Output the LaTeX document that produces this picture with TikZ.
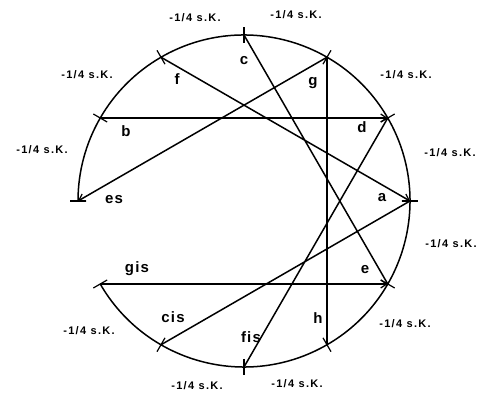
\documentclass[tikz,border=0pt]{standalone}
\usepackage{fontspec}
\setmainfont{Liberation Sans}
\newfontfamily\qfont{Liberation Sans Bold}[LetterSpace=12]
\newfontfamily\nfont{Liberation Sans Bold}[LetterSpace=8]
\usetikzlibrary{arrows.meta,calc}
\begin{document}
\begin{tikzpicture}[x=1pt,y=1pt,
  ring/.style={line width=1.5pt},
  chord/.style={line width=1.5pt},
  arr/.style={chord,-{Straight Barb[length=6pt,width=8pt,line width=1.2pt]}},
  tick/.style={line width=1.2pt},
  note/.style={anchor=base,inner sep=0pt,font=\nfont\fontsize{15}{16}\selectfont},
  quarter/.style={anchor=base,inner sep=0pt,font=\qfont\fontsize{11}{12}\selectfont}]
\useasboundingbox (0,0) rectangle (480,396);
\fill[white] (0,0) rectangle (480,396);
\coordinate (O) at (244,195);
\foreach \n/\a in {c/90,g/60,d/30,a/0,e/-30,h/-60,fis/-90,cis/-120,gis/-150,es/180,b/150,f/120}{
  \coordinate (\n) at ($(O)+(\a:166)$);
  \draw[tick] ($(O)+(\a:158)$) -- ($(O)+(\a:174)$);
}
% circle arc (open between es and gis)
\draw[ring] (gis) arc[start angle=-150, end angle=180, radius=166];
% chords
\draw[arr] (f) -- (a);
\draw[arr] (b) -- (d);
\draw[arr] (g) -- (es);
\draw[arr] (gis) -- (e);
\draw[chord] (c) -- (e);
\draw[chord] (g) -- (h);
\draw[chord] (d) -- (fis);
\draw[chord] (a) -- (cis);
% note labels
\node[note] (lc) at (244,331) {c};
\node[note] (lg) at (313,310) {g};
\node[note] (ld) at (362,263) {d};
\node[note] (la) at (382,194) {a};
\node[note] (le) at (365,122) {e};
\node[note] (lh) at (318,72) {h};
\node[note] (lfis) at (251,53) {fis};
\node[note] (lcis) at (173,73) {cis};
\node[note] (lgis) at (137,123) {gis};
\node[note] (les) at (114,192) {es};
\node[note] (lb) at (126,259) {b};
\node[note] (lf) at (177,311) {f};
% quarter comma labels
\node[quarter] (q1) at (195,374) {-1/4 s.K.};
\node[quarter] (q2) at (296,377) {-1/4 s.K.};
\node[quarter] (q3) at (406,317) {-1/4 s.K.};
\node[quarter] (q4) at (450,239) {-1/4 s.K.};
\node[quarter] (q5) at (451,148) {-1/4 s.K.};
\node[quarter] (q6) at (405,68) {-1/4 s.K.};
\node[quarter] (q7) at (297,8) {-1/4 s.K.};
\node[quarter] (q8) at (197,6) {-1/4 s.K.};
\node[quarter] (q9) at (89,61) {-1/4 s.K.};
\node[quarter] (q10) at (42,242) {-1/4 s.K.};
\node[quarter] (q11) at (87,317) {-1/4 s.K.};
\end{tikzpicture}
\end{document}
